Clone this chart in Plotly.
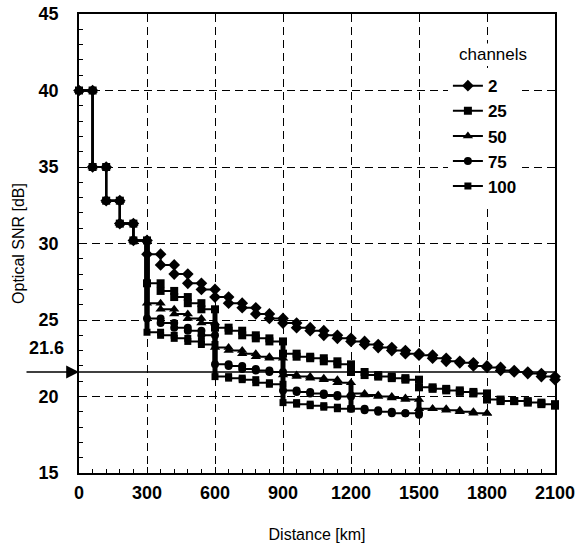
import plotly.graph_objects as go

# ---------------- data ----------------
distance_km = [0, 60, 120, 180, 240, 300, 360, 420, 480, 540, 600, 660, 720, 780, 840,
               900, 960, 1020, 1080, 1140, 1200, 1260, 1320, 1380, 1440, 1500, 1560,
               1620, 1680, 1740, 1800, 1860, 1920, 1980, 2040, 2100]

osnr_2ch = [40.0, 35.0, 32.8, 31.3, 30.2, 29.3, 28.6, 28.0, 27.4, 27.0, 26.5, 26.1,
            25.8, 25.4, 25.1, 24.8, 24.5, 24.3, 24.0, 23.8, 23.6, 23.4, 23.2, 23.0,
            22.8, 22.7, 22.5, 22.3, 22.2, 22.0, 21.9, 21.7, 21.6, 21.5, 21.3, 21.1]
osnr_25ch = [40.0, 35.0, 32.8, 31.3, 30.2, 27.4, 26.9, 26.5, 26.1, 25.7, 24.5, 24.3,
             24.0, 23.8, 23.6, 22.8, 22.6, 22.5, 22.3, 22.1, 21.6, 21.4, 21.3, 21.2,
             21.1, 20.6, 20.5, 20.4, 20.3, 20.2, 19.8, 19.7, 19.7, 19.6, 19.5, 19.4]
osnr_50ch = [40.0, 35.0, 32.8, 31.3, 30.2, 26.1, 25.7, 25.4, 25.1, 24.8, 23.2, 23.0,
             22.8, 22.6, 22.5, 21.4, 21.3, 21.2, 21.1, 20.9, 20.2, 20.1, 20.0, 19.9,
             19.8, 19.2, 19.2, 19.1, 19.0, 18.9, 18.9]
osnr_75ch = [40.0, 35.0, 32.8, 31.3, 30.2, 25.1, 24.8, 24.5, 24.3, 24.0, 22.1, 22.0,
             21.8, 21.7, 21.6, 20.4, 20.3, 20.2, 20.1, 20.0, 19.2, 19.1, 19.0, 18.9,
             18.9, 18.8]
osnr_100ch = [40.0, 35.0, 32.8, 31.3, 30.2, 24.2, 24.0, 23.8, 23.6, 23.4, 21.3, 21.2,
              21.1, 20.9, 20.8, 19.6, 19.5, 19.4, 19.3, 19.2, 19.2]

channel_labels = ["2", "25", "50", "75", "100"]
legend_heading = "channels"
node_km = [300, 600, 900, 1200, 1500, 1800]
threshold_db = 21.6
threshold_label = "21.6"
x_ticks = [0, 300, 600, 900, 1200, 1500, 1800, 2100]
y_ticks = [15, 20, 25, 30, 35, 40, 45]

# ---------------- styling ----------------
series = [osnr_2ch, osnr_25ch, osnr_50ch, osnr_75ch, osnr_100ch]
symbols = ["diamond", "square", "triangle-up", "circle", "square"]
sizes = [9, 8, 9, 8, 7]
FONT = "Liberation Sans"


def staircase(d, v):
    xs, ys = [], []
    for i in range(len(v)):
        if i > 0:
            xs.append(d[i])
            ys.append(v[i - 1])
        xs.append(d[i])
        ys.append(v[i])
    return xs, ys


fig = go.Figure()

# thick vertical drops at the nodes (multi-channel series)
bx, by = [], []
for v in series[1:]:
    for i in range(1, len(v) - 1):
        if distance_km[i] in node_km:
            bx += [distance_km[i], distance_km[i], None]
            by += [v[i - 1], v[i], None]
fig.add_trace(go.Scatter(x=bx, y=by, mode="lines", line=dict(color="black", width=5),
                         showlegend=False, hoverinfo="skip", cliponaxis=False))

for v, lab, sym, sz in zip(series, channel_labels, symbols, sizes):
    xs, ys = staircase(distance_km[:len(v)], v)
    fig.add_trace(go.Scatter(
        x=xs, y=ys, name=lab, mode="lines+markers",
        line=dict(color="black", width=2),
        marker=dict(symbol=sym, size=sz, color="black", line=dict(width=0)),
        cliponaxis=False))

# threshold line
fig.add_shape(type="line", xref="x", yref="y", x0=x_ticks[0], x1=x_ticks[-1],
              y0=threshold_db, y1=threshold_db, line=dict(color="black", width=1.6))
fig.add_annotation(x=x_ticks[0], y=threshold_db, xref="x", yref="y", text="",
                   showarrow=True, arrowhead=2, arrowsize=1.6, arrowwidth=1.6,
                   arrowcolor="black", ax=-54, ay=0, standoff=0)
fig.add_annotation(x=-0.027, y=23.15, xref="paper", yref="y", text=threshold_label,
                   showarrow=False, xanchor="right", yanchor="middle",
                   font=dict(family=FONT, size=18, color="black", weight="bold"))

# legend heading
fig.add_annotation(x=0.795, y=0.912, xref="paper", yref="paper", text=legend_heading,
                   showarrow=False, xanchor="left", yanchor="middle", bgcolor="white",
                   font=dict(family=FONT, size=17, color="black"))

axis_common = dict(
    showline=True, linecolor="black", linewidth=1.5, mirror=True,
    showgrid=True, gridcolor="black", gridwidth=1, griddash="8px,5px",
    ticks="inside", ticklen=6, tickcolor="black", zeroline=False,
    ticklabeloverflow="allow",
    tickfont=dict(family=FONT, size=18, color="black", weight="bold"),
)

fig.update_xaxes(range=[0, 2100], tickvals=x_ticks, ticklabelstandoff=3,
                 minor=dict(dtick=60, ticks="inside", ticklen=4, tickcolor="black", showgrid=False),
                 title=dict(text="Distance [km]", standoff=26,
                            font=dict(family=FONT, size=16, color="black")),
                 **axis_common)
fig.update_yaxes(range=[15, 45], tickvals=y_ticks, ticklabelstandoff=15,
                 minor=dict(dtick=1, ticks="inside", ticklen=4, tickcolor="black", showgrid=False),
                 title=dict(text="Optical SNR [dB]", standoff=10,
                            font=dict(family=FONT, size=16, color="black")),
                 **axis_common)

fig.update_layout(
    width=580, height=553,
    margin=dict(l=79, r=25, t=14, b=80, autoexpand=False),
    paper_bgcolor="white", plot_bgcolor="white",
    font=dict(family=FONT, color="black"),
    legend=dict(x=0.775, y=0.882, xanchor="left", yanchor="top",
                bgcolor="white", borderwidth=0, itemwidth=30,
                font=dict(family=FONT, size=17, color="black", weight="bold")),
)

# remove the default page margin so the figure fills the 580x553 window
fig.write_html("out.html", config={"displayModeBar": False},
               post_script="document.body.style.margin='0px';document.body.style.overflow='hidden';")
